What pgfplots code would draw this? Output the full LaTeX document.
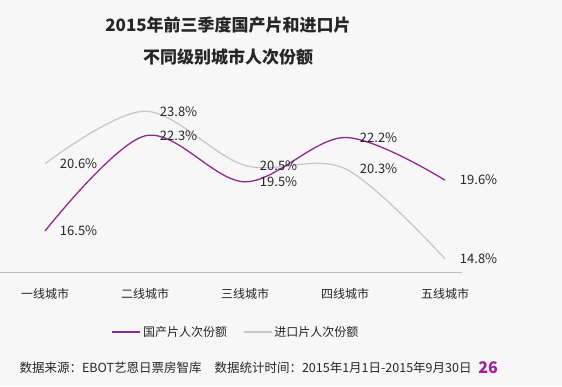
\documentclass[border=0pt]{standalone}
\usepackage{pgfplots}
\pgfplotsset{compat=1.18}
\usepackage{fontspec}
\setmainfont{Noto Sans CJK SC}
\definecolor{bg}{HTML}{F7F7F7}
\definecolor{cpurple}{HTML}{8E2A8E}
\definecolor{cgray}{HTML}{C8C8C8}
\definecolor{txt}{HTML}{262626}
\definecolor{numpurple}{HTML}{A0209C}
\begin{document}
\begin{tikzpicture}[x=1pt,y=1pt]
\fill[bg] (0,0) rectangle (562,386);
\useasboundingbox (0,0) rectangle (562,386);
\node[font=\fontsize{17}{20}\selectfont\bfseries, text=txt] at (228,361) {2015年前三季度国产片和进口片};
\node[font=\fontsize{17}{20}\selectfont\bfseries, text=txt] at (228,329) {不同级别城市人次份额};
\begin{axis}[
  at={(0pt,114pt)}, anchor=south west,
  scale only axis, width=462pt, height=180.4pt,
  xmin=-0.45, xmax=4.17, ymin=14, ymax=25,
  axis y line=none, axis x line*=bottom,
  x axis line style={draw=black!25, line width=1pt},
  xtick={0,1,2,3,4},
  xticklabels={一线城市,二线城市,三线城市,四线城市,五线城市},
  major tick length=0pt,
  xticklabel style={font=\fontsize{12}{14}\selectfont, text=txt, yshift=-13pt},
  clip=false,
  /pgf/number format/assume math mode=true,
  /pgf/number format/fixed, /pgf/number format/fixed zerofill,
  /pgf/number format/precision=1,
  nodes near coords={\pgfmathprintnumber{\pgfplotspointmeta}\%},
  every node near coord/.append style={anchor=west, xshift=11pt, font=\fontsize{13}{15}\selectfont, text=txt},
  legend columns=2,
  reverse legend,
  legend style={at={(0.511,-0.333)}, anchor=center, draw=none, fill=none,
    font=\fontsize{12}{14}\selectfont, text=txt,
    /tikz/every even column/.append style={column sep=14pt}},
  legend image code/.code={\draw[#1] (0pt,0pt) -- (28pt,0pt);},
]
\addplot[cgray, line width=1.3pt, smooth, tension=0.55, mark=none] coordinates {(0,20.6) (1,23.8) (2,20.5) (3,20.3) (4,14.8)};
\addplot[cpurple, line width=1.3pt, smooth, tension=0.55, mark=none] coordinates {(0,16.5) (1,22.3) (2,19.5) (3,22.2) (4,19.6)};
\legend{进口片人次份额,国产片人次份额}
\end{axis}
\node[anchor=west, font=\fontsize{12.5}{14}\selectfont, text=txt] at (16,18) {数据来源：EBOT艺恩日票房智库\hspace{13pt}数据统计时间：2015年1月1日-2015年9月30日};
\node[font=\fontsize{16}{18}\selectfont\bfseries, text=numpurple] at (488,18) {26};
\end{tikzpicture}
\end{document}
